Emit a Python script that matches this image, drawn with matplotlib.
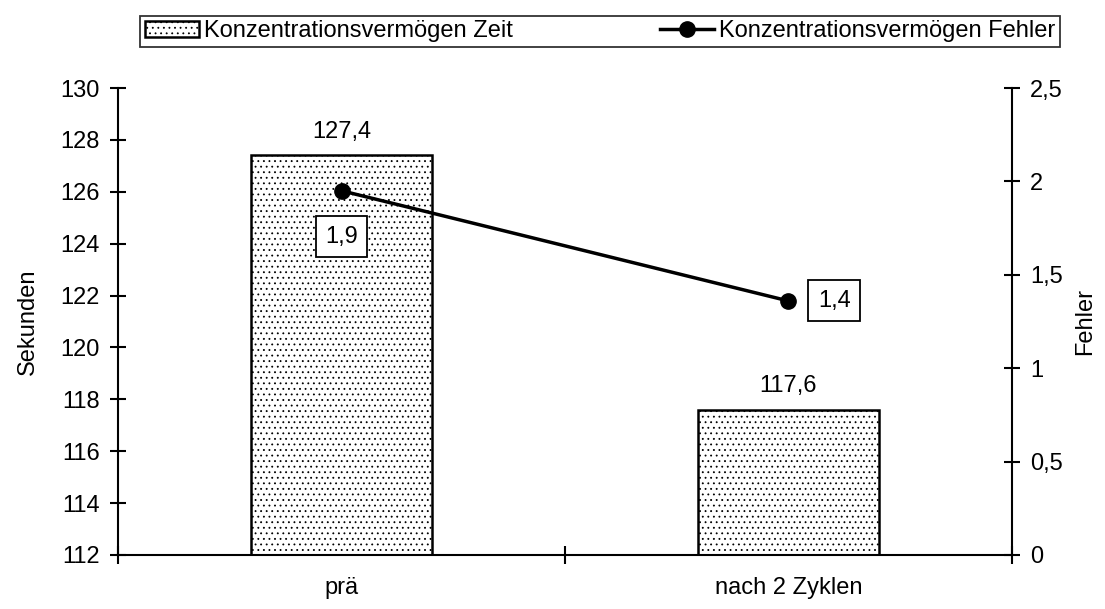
import numpy as np
import matplotlib
matplotlib.use("Agg")
import matplotlib.pyplot as plt
from matplotlib.ticker import FuncFormatter, MultipleLocator

plt.rcParams['font.family'] = ['Liberation Sans', 'DejaVu Sans']
plt.rcParams['hatch.color'] = '#9a9a9a'
plt.rcParams['hatch.linewidth'] = 0.6

categories = ["prä", "nach 2 Zyklen"]
zeit = [127.4, 117.6]          # Sekunden (bars)
fehler = [1.95, 1.36]          # Fehler (line)
fehler_labels = ["1,9", "1,4"]
bar_labels = ["127,4", "117,6"]

FS = 17


def comma(v, pos=None):
    s = f"{v:g}"
    return s.replace(".", ",")


fig = plt.figure(figsize=(11.05, 6.09), dpi=100)
ax = fig.add_axes([0.1068, 0.0887, 0.9158 - 0.1068, 0.8555 - 0.0887])
ax2 = ax.twinx()

x = np.arange(len(categories))
bars = ax.bar(x, zeit, width=0.405, bottom=0, color="white", edgecolor="black",
              linewidth=1.8, hatch="...", zorder=2,
              label="Konzentrationsvermögen Zeit")
ax.set_xlim(-0.5, 1.5)
ax.set_ylim(112, 130)
ax.yaxis.set_major_locator(MultipleLocator(2))
ax.set_xticks([-0.5, 0.5, 1.5])
ax.set_xticklabels([])
ax.set_xticks(x, minor=True)
ax.set_xticklabels(categories, minor=True, fontsize=FS)
ax.tick_params(axis="x", which="minor", length=0, pad=16)
ax.tick_params(axis="x", which="major", direction="inout", length=13, width=1.5)
ax.tick_params(axis="y", direction="inout", length=12, width=1.5, labelsize=FS, pad=7)
ax.set_ylabel("Sekunden", fontsize=FS)
ax.yaxis.set_label_coords(-0.0887, 0.5)
for s in ["top", "right"]:
    ax.spines[s].set_visible(False)
for s in ["left", "bottom"]:
    ax.spines[s].set_linewidth(1.5)

for xi, v, lab in zip(x, zeit, bar_labels):
    ax.annotate(lab, (xi, v), xytext=(0, 17), textcoords="offset points",
                ha="center", va="center", fontsize=FS)

line, = ax2.plot(x, fehler, color="black", lw=2.5, marker="o", ms=11,
                 zorder=3, label="Konzentrationsvermögen Fehler")
ax2.set_ylim(0, 2.5)
ax2.yaxis.set_major_locator(MultipleLocator(0.5))
ax2.yaxis.set_major_formatter(FuncFormatter(comma))
ax2.tick_params(axis="y", direction="inout", length=12, width=1.5, labelsize=FS, pad=7)
ax2.set_ylabel("Fehler", fontsize=FS)
ax2.yaxis.set_label_coords(1.069, 0.5)
for s in ["top", "left", "bottom"]:
    ax2.spines[s].set_visible(False)
ax2.spines["right"].set_linewidth(1.5)

box = dict(boxstyle="square,pad=0.4", fc="white", ec="black", lw=1.3)
ax2.annotate(fehler_labels[0], (x[0], fehler[0]), xytext=(0, -33),
             textcoords="offset points", ha="center", va="center",
             fontsize=FS, bbox=box)
ax2.annotate(fehler_labels[1], (x[1], fehler[1]), xytext=(33, 0),
             textcoords="offset points", ha="center", va="center",
             fontsize=FS, bbox=box)

leg = fig.legend([bars, line], [bars.get_label(), line.get_label()],
                 loc="lower left", bbox_to_anchor=(140 / 1105, 1 - 47 / 609,
                                                   920 / 1105, 39 / 609),
                 mode="expand", ncol=2, fontsize=FS, frameon=True,
                 fancybox=False, edgecolor="black", borderpad=0.2,
                 handlelength=2.3, handletextpad=0.2, borderaxespad=0)
leg.get_frame().set_linewidth(1.3)

fig.savefig("out.png", dpi=100, facecolor="white")
